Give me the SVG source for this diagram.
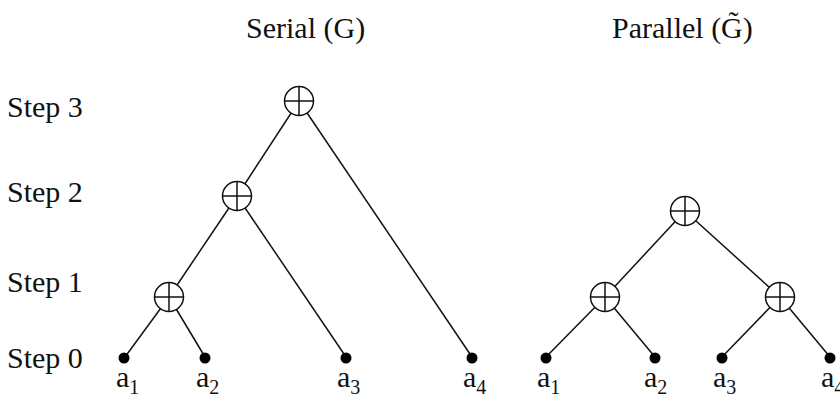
<svg xmlns="http://www.w3.org/2000/svg" width="840" height="401" viewBox="0 0 840 401">
<style>
text{font-family:"Liberation Serif","Times New Roman",serif;font-size:30px;fill:#111}
.sub{font-size:20px}
.e{stroke:#111;stroke-width:1.5;fill:none}
.leaf{fill:#000}
</style>
<defs>
<g id="plus" fill="#fff" stroke="#111" stroke-width="1.5"><circle r="14.5"/><line x1="-14.5" y1="0" x2="14.5" y2="0"/><line x1="0" y1="-14.5" x2="0" y2="14.5"/></g>
</defs>
<rect width="840" height="401" fill="#fff"/>
<text x="246" y="38">Serial (G)</text>
<text x="612" y="38">Parallel (G&#x0303;)</text>
<text x="7" y="117">Step 3</text>
<text x="7" y="202">Step 2</text>
<text x="7" y="292">Step 1</text>
<text x="7" y="368">Step 0</text>
<g id="connectors">
<line class="e" x1="125" y1="357" x2="169" y2="297"/>
<line class="e" x1="205" y1="357" x2="169" y2="297"/>
<line class="e" x1="169" y1="297" x2="237" y2="196"/>
<line class="e" x1="346" y1="357" x2="237" y2="196"/>
<line class="e" x1="237" y1="196" x2="299" y2="101"/>
<line class="e" x1="472" y1="357" x2="299" y2="101"/>
<line class="e" x1="546" y1="357" x2="605" y2="297"/>
<line class="e" x1="655" y1="357" x2="605" y2="297"/>
<line class="e" x1="722" y1="357" x2="780" y2="297"/>
<line class="e" x1="830" y1="357" x2="780" y2="297"/>
<line class="e" x1="605" y1="297" x2="685" y2="211"/>
<line class="e" x1="780" y1="297" x2="685" y2="211"/>
</g>
<g id="s3"><use href="#plus" x="299" y="101"/></g>
<g id="s2"><use href="#plus" x="237" y="196"/></g>
<g id="s1"><use href="#plus" x="169" y="297"/></g>
<g id="p2"><use href="#plus" x="685" y="211"/></g>
<g id="p1a"><use href="#plus" x="605" y="297"/></g>
<g id="p1b"><use href="#plus" x="780" y="297"/></g>
<g id="sa1"><circle class="leaf" cx="124" cy="358" r="5.5"/><text x="116" y="387">a<tspan class="sub" dy="7">1</tspan></text></g>
<g id="sa2"><circle class="leaf" cx="205" cy="358" r="5.5"/><text x="196" y="387">a<tspan class="sub" dy="7">2</tspan></text></g>
<g id="sa3"><circle class="leaf" cx="346" cy="358" r="5.5"/><text x="337" y="387">a<tspan class="sub" dy="7">3</tspan></text></g>
<g id="sa4"><circle class="leaf" cx="472" cy="358" r="5.5"/><text x="463" y="387">a<tspan class="sub" dy="7">4</tspan></text></g>
<g id="pa1"><circle class="leaf" cx="546" cy="358" r="5.5"/><text x="537" y="387">a<tspan class="sub" dy="7">1</tspan></text></g>
<g id="pa2"><circle class="leaf" cx="655" cy="358" r="5.5"/><text x="644" y="387">a<tspan class="sub" dy="7">2</tspan></text></g>
<g id="pa3"><circle class="leaf" cx="722" cy="358" r="5.5"/><text x="713" y="387">a<tspan class="sub" dy="7">3</tspan></text></g>
<g id="pa4"><circle class="leaf" cx="830" cy="358" r="5.5"/><text x="821" y="387">a<tspan class="sub" dy="7">4</tspan></text></g>
</svg>
